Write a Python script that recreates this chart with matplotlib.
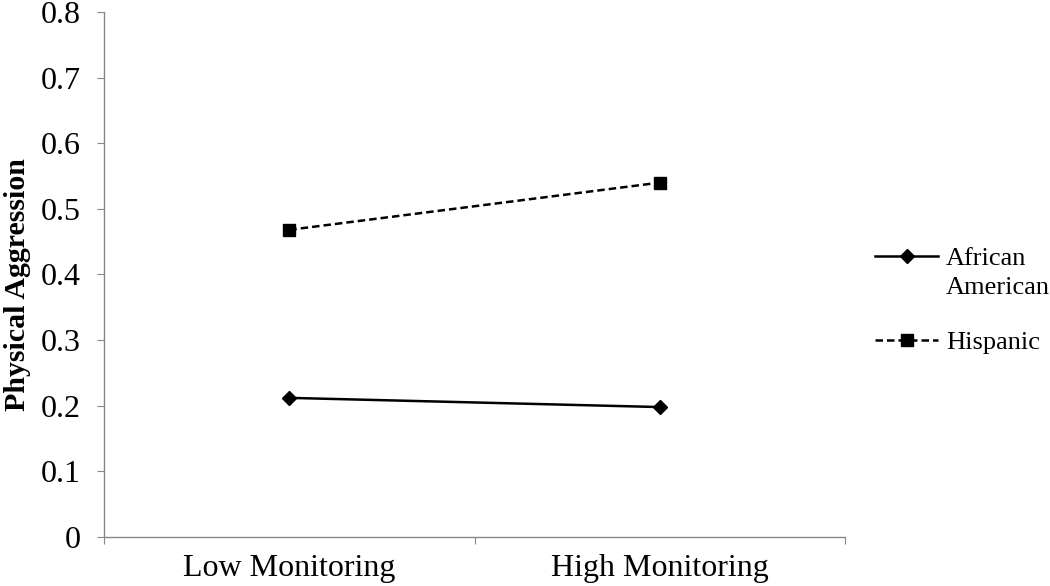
import matplotlib.pyplot as plt
from matplotlib.transforms import ScaledTranslation

# data
groups = ['Low Monitoring', 'High Monitoring']
african_american = [0.212, 0.198]
hispanic = [0.468, 0.540]
y_ticks = [0, 0.1, 0.2, 0.3, 0.4, 0.5, 0.6, 0.7, 0.8]

plt.rcParams['font.family'] = ['Liberation Serif', 'DejaVu Serif']
fs = 23
leg_fs = 19

fig = plt.figure(figsize=(10.5, 5.86), dpi=100)
ax = fig.add_axes([0.099, 0.0836, 0.706, 0.896])

xpos = [0.5, 1.5]
ax.plot(xpos, african_american, color='black', lw=1.8, marker='D', ms=7,
        label='African')
ax.plot(xpos, hispanic, color='black', lw=1.8, ls=(0, (3, 1.6)), marker='s', ms=8,
        label='Hispanic')

ax.set_xlim(0, 2)
ax.set_ylim(0, 0.8)
ax.set_yticks(y_ticks)
ax.set_yticklabels(['0' if v == 0 else f'{v:.1f}' for v in y_ticks])
ax.set_xticks([0, 1, 2])
ax.set_xticklabels([])
ax.set_xticks(xpos, minor=True)
ax.set_xticklabels(groups, minor=True)
ax.tick_params(axis='x', which='minor', length=0, pad=12.5, labelsize=fs)
ax.tick_params(axis='x', which='major', length=5, direction='out', color='#888888')
ax.tick_params(axis='y', length=5, direction='out', color='#888888', labelsize=fs, pad=12)

for s in ['top', 'right']:
    ax.spines[s].set_visible(False)
for s in ['left', 'bottom']:
    ax.spines[s].set_color('#888888')
    ax.spines[s].set_linewidth(1.0)

ax.set_ylabel('Physical Aggression', fontsize=21.5, fontweight='bold')
ax.yaxis.set_label_coords(-0.099, 0.48)

# legend: handle sits on the first line of the two-line label
leg = ax.legend(loc='upper left', bbox_to_anchor=(1.04, 0.553), frameon=False,
                fontsize=leg_fs, handlelength=2.4, handletextpad=0.3,
                labelspacing=2.28, borderpad=0, borderaxespad=0)
fig.canvas.draw()
bb = leg.texts[0].get_window_extent().transformed(fig.transFigure.inverted())
off = ScaledTranslation(0, -0.29, fig.dpi_scale_trans)
fig.text(bb.x0, bb.y1, 'American', fontsize=leg_fs, va='top', ha='left',
         transform=fig.transFigure + off)

fig.savefig('out.png', dpi=100)
